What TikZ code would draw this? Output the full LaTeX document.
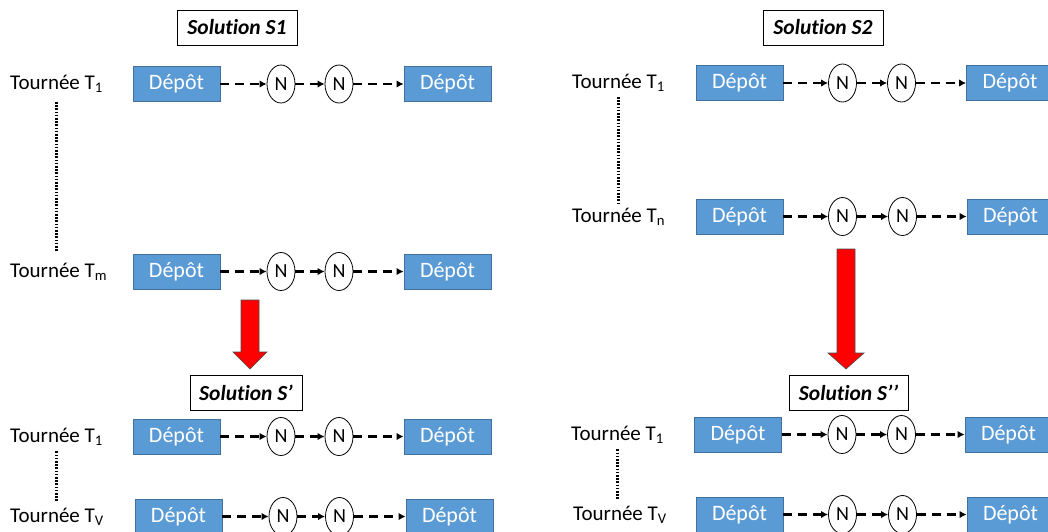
\documentclass[tikz,border=0pt]{standalone}
\usepackage{fontspec}
\setmainfont{Carlito}[Ligatures=NoCommon]
\usepackage{tikz}
\usetikzlibrary{arrows.meta,shapes.geometric}
\definecolor{bleudepot}{RGB}{91,155,213}
\definecolor{borddepot}{RGB}{65,113,156}

\begin{document}
\begin{tikzpicture}[x=1pt,y=-1pt,
	depot/.style={draw=borddepot, line width=0.8pt, fill=bleudepot, text=white, minimum width=87pt, minimum height=35pt, inner sep=0pt, font=\fontsize{22}{26}\selectfont},
	noeud/.style={draw, ellipse, line width=0.8pt, minimum width=28pt, minimum height=38pt, inner sep=0pt, font=\fontsize{20}{24}\selectfont},
	lien/.style={-{Latex[length=7pt,width=7.5pt]}, line width=2.5pt, dash pattern=on 9pt off 6pt},
	tournee/.style={anchor=west, inner sep=0pt, font=\fontsize{21}{25}\selectfont},
	titre/.style={draw, line width=0.8pt, minimum height=35pt, inner sep=0pt, font=\fontsize{21.5}{25}\selectfont\bfseries\itshape},
	pointille/.style={line width=2.5pt, dash pattern=on 1.6pt off 1.6pt},
	grossefleche/.style={fill=red, draw=black!70, line width=0.6pt}]
	
	% Cadre de l'image
	\path[use as bounding box, clip] (0,0) rectangle (1048,531);
	
	% Titres des solutions
	\node[titre, minimum width=120pt] (s1) at (237,27.5) {Solution S1};
	\node[titre, minimum width=120pt] (s2) at (823,27.5) {Solution S2};
	\node[titre, minimum width=112pt] (sp) at (246,392.5) {Solution S’};
	\node[titre, minimum width=119pt] (spp) at (848.5,393) {Solution S’’};
	
	% Tournees : nom / x du texte / y / depot / N / N / depot / indice
	\foreach \nom/\lx/\y/\da/\ea/\eb/\db/\ind in {
		a1/10/84/176.5/281/339/447.5/1,
		am/10/271.5/176.5/281/339/447.5/m,
		b1/10/436.5/176.5/281/339/447.5/1,
		bv/10/516.5/178.5/283/339.5/449.5/V,
		c1/572/83/739.5/842.5/901.5/1010/1,
		cn/572/216.5/739.5/842.5/902.5/1010.5/n,
		d1/571/434.5/738/842/901.5/1008.5/1,
		dv/573/514.5/739.5/842.5/902.5/1010.5/V}
	{
		\node[tournee] (t\nom) at (\lx,\y) {Tournée T\textsubscript{\ind}};
		\node[depot] (da\nom) at (\da,\y) {Dépôt};
		\node[noeud] (na\nom) at (\ea,\y) {N};
		\node[noeud] (nb\nom) at (\eb,\y) {N};
		\node[depot] (db\nom) at (\db,\y) {Dépôt};
		\draw[lien] (da\nom) -- (na\nom);
		\draw[lien] (na\nom) -- (nb\nom);
		\draw[lien] (nb\nom) -- (db\nom);
	}
	
	% Points de suspension verticaux
	\draw[pointille] ([yshift=-9pt]ta1.south) -- ([yshift=12pt]ta1.south |- tam.north);
	\draw[pointille] ([yshift=-6pt]tb1.south) -- ([yshift=6pt]tb1.south |- tbv.north);
	\draw[pointille] ([yshift=-5pt]tc1.south) -- ([yshift=5pt]tc1.south |- tcn.north);
	\draw[pointille] ([yshift=-6pt]td1.south) -- ([yshift=6pt]td1.south |- tdv.north);
	
	% Grosses fleches rouges
	\draw[grossefleche] (241,300) -- (259,300) -- (259,352) -- (267,352) -- (250,369) -- (233,352) -- (241,352) -- cycle;
	\draw[grossefleche] (837,249) -- (855,249) -- (855,353) -- (864,353) -- (846,369) -- (828,353) -- (837,353) -- cycle;
	
\end{tikzpicture}
\end{document}
